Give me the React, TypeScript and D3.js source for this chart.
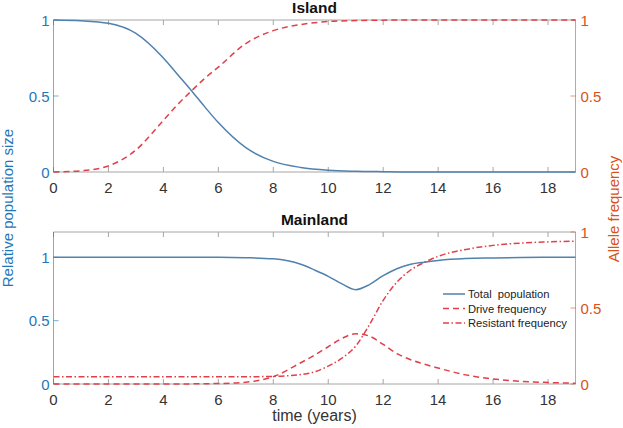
import * as d3 from "d3";

// island panel samples (years)
const islandTime = [0, 1, 2, 3, 4, 4.5, 5, 5.5, 6, 7, 8, 9, 10, 11, 12, 13, 14, 15, 16, 17, 18, 19];
const islandPop = [1, 0.995, 0.978, 0.912, 0.75, 0.645, 0.54, 0.43, 0.325, 0.16, 0.07, 0.03, 0.012, 0.005, 0.002, 0, 0, 0, 0, 0, 0, 0];
const islandDrive = [0, 0.008, 0.04, 0.145, 0.34, 0.44, 0.53, 0.615, 0.69, 0.845, 0.93, 0.97, 0.99, 0.996, 0.999, 1, 1, 1, 1, 1, 1, 1];

// mainland panel samples (years)
const mainTime = [0, 2, 4, 6, 7, 8, 9, 9.5, 10, 10.5, 11, 11.5, 12, 12.5, 13, 13.5, 14, 15, 16, 17, 18, 19];
const mainPop = [1, 1, 1, 1, 0.997, 0.988, 0.945, 0.9, 0.85, 0.79, 0.745, 0.785, 0.855, 0.91, 0.945, 0.962, 0.975, 0.99, 0.995, 0.998, 1, 1];
const mainDrive = [0, 0, 0, 0.003, 0.012, 0.048, 0.14, 0.19, 0.245, 0.3, 0.33, 0.315, 0.26, 0.2, 0.16, 0.13, 0.105, 0.06, 0.033, 0.018, 0.01, 0.005];
const mainResistant = [0.048, 0.048, 0.048, 0.048, 0.048, 0.05, 0.062, 0.08, 0.118, 0.17, 0.25, 0.39, 0.55, 0.67, 0.75, 0.8, 0.84, 0.885, 0.912, 0.927, 0.935, 0.94];

const xTicks = [0, 2, 4, 6, 8, 10, 12, 14, 16, 18];
const yTicks = [0, 0.5, 1];
const legendLabels = ["Total  population", "Drive frequency", "Resistant frequency"];

const W = 623, H = 428;
const left = 53.5, right = 575.5;
const BLUE_AX = "#1f77b8";
const ORANGE = "#d95319";
const LINE_BLUE = "#4f82ae";
const RED = "#e0404a";
const GRAY = "#a6a6a6";
const FONT = "'Liberation Sans', Arial, Helvetica, sans-serif";

const x = d3.scaleLinear().domain([0, 19]).range([left, right]);

type Series = { t: number[]; v: number[]; axis: "l" | "r"; color: string; dash?: string };

function Panel({ top, bottom, leftMax, title, series, showLegend }:
  { top: number; bottom: number; leftMax: number; title: string; series: Series[]; showLegend?: boolean }) {
  const yl = d3.scaleLinear().domain([0, leftMax]).range([bottom, top]);
  const yr = d3.scaleLinear().domain([0, 1]).range([bottom, top]);
  const tick = 5;
  return (
    <g>
      <text x={(left + right) / 2} y={top - 7} textAnchor="middle" fontFamily={FONT} fontWeight="bold" fontSize={15.5} fill="#111">{title}</text>
      {/* box */}
      <line x1={left} x2={right} y1={top} y2={top} stroke={GRAY} />
      <line x1={left} x2={right} y1={bottom} y2={bottom} stroke={GRAY} />
      {xTicks.map(t => (
        <g key={t}>
          <line x1={x(t)} x2={x(t)} y1={bottom} y2={bottom - tick} stroke={GRAY} />
          <line x1={x(t)} x2={x(t)} y1={top} y2={top + tick} stroke={GRAY} />
          <text x={x(t)} y={bottom + 20.5} textAnchor="middle" fontFamily={FONT} fontSize={15} fill="#333">{t}</text>
        </g>
      ))}
      {/* left axis */}
      <line x1={left} x2={left} y1={top} y2={bottom} stroke={BLUE_AX} strokeOpacity={0.6} />
      {yTicks.map(v => (
        <g key={"l" + v}>
          <line x1={left} x2={left + tick} y1={yl(v)} y2={yl(v)} stroke={BLUE_AX} strokeOpacity={0.6} />
          <text x={left - 4} y={yl(v) + 5.5} textAnchor="end" fontFamily={FONT} fontSize={15} fill={BLUE_AX}>{v}</text>
        </g>
      ))}
      {/* right axis */}
      <line x1={right} x2={right} y1={top} y2={bottom} stroke={ORANGE} strokeOpacity={0.6} />
      {yTicks.map(v => (
        <g key={"r" + v}>
          <line x1={right} x2={right - tick} y1={yr(v)} y2={yr(v)} stroke={ORANGE} strokeOpacity={0.6} />
          <text x={right + 5} y={yr(v) + 5.5} textAnchor="start" fontFamily={FONT} fontSize={15} fill={ORANGE}>{v}</text>
        </g>
      ))}
      {series.map((s, i) => {
        const y = s.axis === "l" ? yl : yr;
        const line = d3.line<number>()
          .x((_, j) => x(s.t[j]))
          .y(d => y(d))
          .curve(d3.curveMonotoneX);
        return <path key={i} d={line(s.v) ?? ""} fill="none" stroke={s.color} strokeWidth={1.5} strokeDasharray={s.dash} />;
      })}
      {showLegend && series.map((s, i) => (
        <g key={"lg" + i}>
          <line x1={443} x2={465} y1={294 + i * 14.5} y2={294 + i * 14.5} stroke={s.color} strokeWidth={1.5} strokeDasharray={s.dash} />
          <text x={468} y={294 + i * 14.5 + 4} fontFamily={FONT} fontSize={11.2} fill="#222" style={{ whiteSpace: "pre" }}>{legendLabels[i]}</text>
        </g>
      ))}
    </g>
  );
}

export default function App() {
  return (
    <svg width={W} height={H} style={{ position: "absolute", left: 0, top: 0, background: "#fff" }}>
      <rect width={W} height={H} fill="#fff" />
      <Panel top={20} bottom={172} leftMax={1} title="Island" series={[
        { t: islandTime, v: islandPop, axis: "l", color: LINE_BLUE },
        { t: islandTime, v: islandDrive, axis: "r", color: RED, dash: "6,4" },
      ]} />
      <Panel top={232} bottom={384} leftMax={1.2} title="Mainland" showLegend series={[
        { t: mainTime, v: mainPop, axis: "l", color: LINE_BLUE },
        { t: mainTime, v: mainDrive, axis: "r", color: RED, dash: "6,4" },
        { t: mainTime, v: mainResistant, axis: "r", color: RED, dash: "6,2.5,1.5,2.5" },
      ]} />
      <text x={(left + right) / 2} y={421} textAnchor="middle" fontFamily={FONT} fontSize={16} fill="#333">time (years)</text>
      <text transform="translate(13,208) rotate(-90)" textAnchor="middle" fontFamily={FONT} fontSize={15} fill={BLUE_AX}>Relative population size</text>
      <text transform="translate(619,209) rotate(-90)" textAnchor="middle" fontFamily={FONT} fontSize={15} fill={ORANGE}>Allele frequency</text>
    </svg>
  );
}
